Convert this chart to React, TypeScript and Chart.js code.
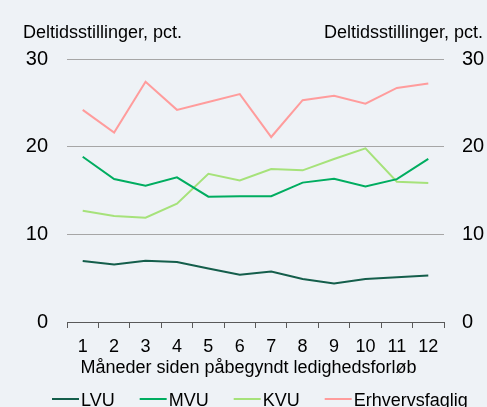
import React, { useEffect, useRef } from "react";
import { Chart, registerables } from "chart.js";

Chart.register(...registerables);

const months = ["1", "2", "3", "4", "5", "6", "7", "8", "9", "10", "11", "12"];
const lvu = [6.95, 6.55, 7.0, 6.85, 6.1, 5.4, 5.75, 4.9, 4.4, 4.9, 5.1, 5.3];
const mvu = [18.85, 16.3, 15.55, 16.5, 14.3, 14.35, 14.35, 15.9, 16.35, 15.45, 16.3, 18.6];
const kvu = [12.7, 12.1, 11.9, 13.5, 16.9, 16.15, 17.45, 17.3, 18.6, 19.8, 16.0, 15.85];
const erhverv = [24.2, 21.6, 27.4, 24.2, 25.1, 26.0, 21.1, 25.3, 25.8, 24.9, 26.7, 27.2];
const seriesLabels = ["LVU", "MVU", "KVU", "Erhvervsfaglig"];
const seriesColors = ["#145e4b", "#00ad60", "#a6e27a", "#ff9c9c"];
const yTicks = [0, 10, 20, 30];
const axisUnit = "Deltidsstillinger, pct.";
const xTitle = "Måneder siden påbegyndt ledighedsforløb";

const FONT = '"Liberation Sans", Arial, sans-serif';
const BG = "#eef2f6";

const textPlugin = {
  id: "texts",
  beforeDraw(chart: any) {
    const ctx = chart.ctx;
    ctx.save();
    ctx.fillStyle = BG;
    ctx.fillRect(0, 0, chart.width, chart.height);
    ctx.restore();
  },
  afterDraw(chart: any) {
    const ctx = chart.ctx;
    ctx.save();
    ctx.fillStyle = "#000";
    ctx.font = `18px ${FONT}`;
    ctx.textBaseline = "alphabetic";
    ctx.textAlign = "left";
    ctx.fillText(axisUnit, 23, 38);
    ctx.textAlign = "right";
    ctx.fillText(axisUnit, 483, 38);
    ctx.textAlign = "center";
    ctx.fillText(xTitle, 248.5, 373);
    // legend
    ctx.textAlign = "left";
    let x = 52;
    chart.data.datasets.forEach((ds: any) => {
      ctx.strokeStyle = ds.borderColor;
      ctx.lineWidth = 2;
      ctx.beginPath();
      ctx.moveTo(x, 399);
      ctx.lineTo(x + 27, 399);
      ctx.stroke();
      x += 29;
      ctx.fillStyle = "#000";
      ctx.fillText(ds.label, x, 405.5);
      x += ctx.measureText(ds.label).width + 25;
    });
    ctx.restore();
  },
};

export default function App() {
  const ref = useRef<HTMLCanvasElement | null>(null);
  useEffect(() => {
    document.body.style.margin = "0";
    document.body.style.background = BG;
    const data = [lvu, mvu, kvu, erhverv];
    const chart = new Chart(ref.current!, {
      type: "line",
      data: {
        labels: months,
        datasets: data.map((d, i) => ({
          label: seriesLabels[i],
          data: d,
          borderColor: seriesColors[i],
          backgroundColor: seriesColors[i],
          borderWidth: 2,
          pointRadius: 0,
          tension: 0,
          yAxisID: "y",
        })),
      },
      options: {
        responsive: false,
        animation: false,
        layout: { padding: { top: 59, left: 0, right: 0, bottom: 0 } },
        plugins: { legend: { display: false }, tooltip: { enabled: false }, title: { display: false } },
        scales: {
          x: {
            type: "category",
            offset: true,
            grid: { offset: true, drawOnChartArea: false, drawTicks: true, tickLength: 6, color: "#595959" },
            border: { display: true, color: "#595959", width: 1 },
            ticks: { font: { family: FONT, size: 18 }, color: "#000", padding: 8, maxRotation: 0, autoSkip: false },
            afterFit(s: any) { s.height = 85; },
          },
          y: {
            position: "left",
            min: 0,
            max: 30,
            afterBuildTicks(s: any) { s.ticks = yTicks.map((v) => ({ value: v })); },
            grid: { color: "#a6a6a6", drawTicks: false, lineWidth: 1 },
            border: { display: false },
            ticks: { font: { family: FONT, size: 20 }, color: "#000", padding: 19 },
            afterFit(s: any) { s.width = 67; },
          },
          y2: {
            position: "right",
            min: 0,
            max: 30,
            afterBuildTicks(s: any) { s.ticks = yTicks.map((v) => ({ value: v })); },
            grid: { drawOnChartArea: false, drawTicks: false },
            border: { display: false },
            ticks: { font: { family: FONT, size: 20 }, color: "#000", padding: 18 },
            afterFit(s: any) { s.width = 43; },
          },
        },
      },
      plugins: [textPlugin],
    });
    return () => chart.destroy();
  }, []);
  return <canvas ref={ref} width={487} height={407} style={{ display: "block" }} />;
}
